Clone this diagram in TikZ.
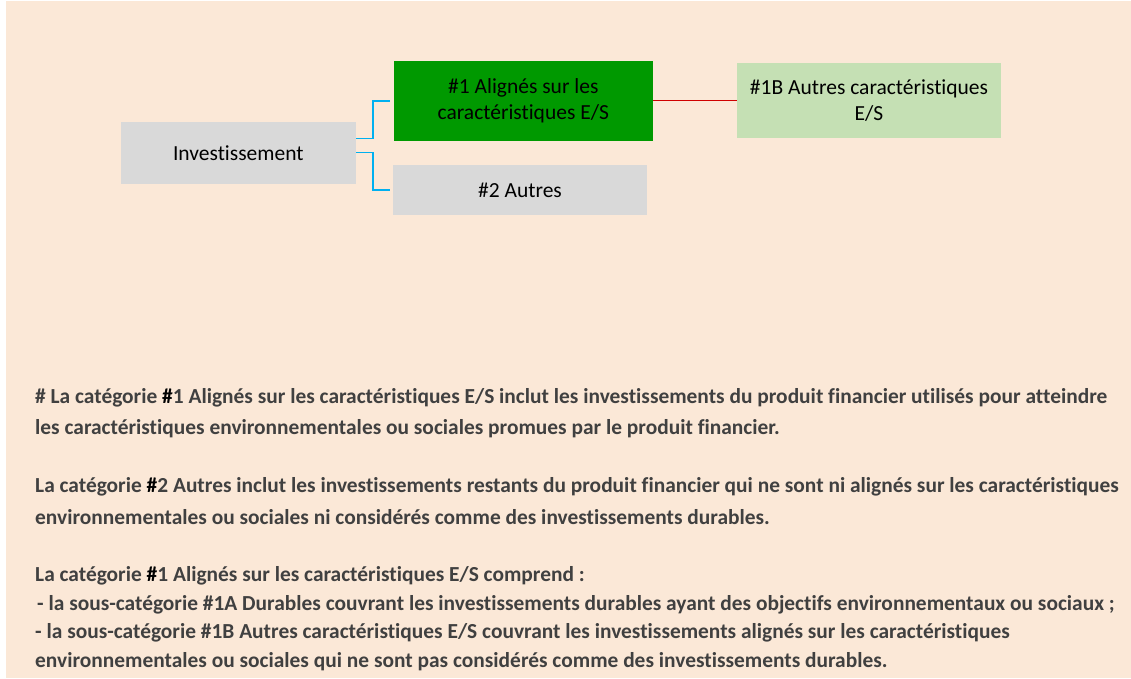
\documentclass[tikz,border=0pt]{standalone}
\usepackage{fontspec}
\setmainfont[Ligatures={NoCommon,NoRequired,NoContextual,NoDiscretionary}]{Carlito}
\definecolor{peach}{HTML}{FBE8D7}
\definecolor{boxgray}{HTML}{D9D9D9}
\definecolor{darkgreen}{HTML}{009900}
\definecolor{lightgreen}{HTML}{C5E0B4}
\definecolor{connblue}{HTML}{00B0F0}
\definecolor{connred}{HTML}{D00000}
\definecolor{txtgray}{HTML}{404040}
\newcommand{\hb}{{\color{black}\#}}
\begin{document}
\begin{tikzpicture}[x=1pt,y=-1pt,
  catbox/.style={rectangle,draw=none,inner sep=0pt,align=center,
    font=\fontsize{21.5}{25.7}\selectfont,text=black},
  conn/.style={connblue,line width=1.5pt},
  redconn/.style={connred,line width=1.2pt},
  bodyline/.style={anchor=base west,inner sep=0pt,text=txtgray,
    font=\fontsize{21.4}{24}\selectfont\bfseries}]
\useasboundingbox (0,0) rectangle (1131,678);
\fill[white] (0,0) rectangle (1131,678);
\fill[peach] (6,1) rectangle (1131,678);

\node[catbox,fill=boxgray,minimum width=235pt,minimum height=62pt] (inv) at (238.3,152.7) {Investissement};
\node[catbox,fill=darkgreen,minimum width=259pt,minimum height=79.7pt] (a1) at (523.3,100.8) {\#1 Alignés sur les\\caractéristiques E/S};
\node[catbox,fill=lightgreen,minimum width=264pt,minimum height=74.7pt] (b1) at (869,100.3) {\#1B Autres caractéristiques\\E/S};
\node[catbox,fill=boxgray,minimum width=254pt,minimum height=49.7pt] (a2) at (520,190) {\#2 Autres};

\draw[conn] ([yshift=14.4pt]inv.east) -- ++(17,0) |- ([xshift=-4pt]a1.west);
\draw[conn] (inv.east) -- ++(17,0) |- ([xshift=-3pt]a2.west);
\draw[redconn] (a1.east) -- (a1.east -| b1.west);

\node[bodyline] (t1) at (35,403) {\# La catégorie \hb1 Alignés sur les caractéristiques E/S inclut les investissements du produit financier utilisés pour atteindre};
\node[bodyline] (t2) at (35,434) {les caractéristiques environnementales ou sociales promues par le produit financier.};
\node[bodyline] (t3) at (35,492) {La catégorie \hb2 Autres inclut les investissements restants du produit financier qui ne sont ni alignés sur les caractéristiques};
\node[bodyline] (t4) at (35,524) {environnementales ou sociales ni considérés comme des investissements durables.};
\node[bodyline] (t5) at (35,581) {La catégorie \hb1 Alignés sur les caractéristiques E/S comprend :};
\node[bodyline] (t6) at (37,610) {- la sous-catégorie \#1A Durables couvrant les investissements durables ayant des objectifs environnementaux ou sociaux ;};
\node[bodyline] (t7) at (35,638) {- la sous-catégorie \#1B Autres caractéristiques E/S couvrant les investissements alignés sur les caractéristiques};
\node[bodyline] (t8) at (35,667) {environnementales ou sociales qui ne sont pas considérés comme des investissements durables.};
\end{tikzpicture}
\end{document}
